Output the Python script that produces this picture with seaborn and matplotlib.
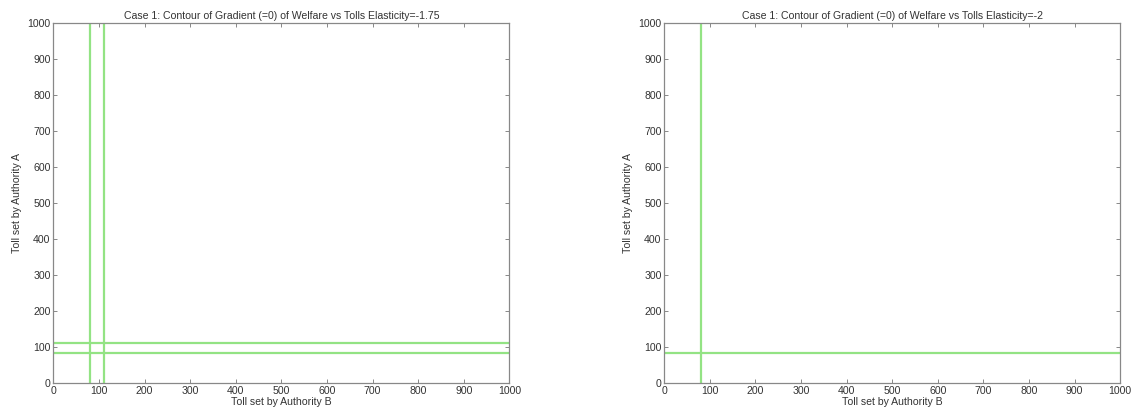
import pandas as pd
import matplotlib.pyplot as plt
import seaborn as sns

# Zero-gradient contour locations
elasticities = ['-1.75', '-2']
roots_b = [[81, 111], [81]]   # vertical contours (toll by Authority B)
roots_a = [[82, 110], [82]]   # horizontal contours (toll by Authority A)
axis_limits = [0, 1000]
ticks = list(range(0, 1001, 100))

sns.set_theme(style='white')
plt.rcParams['font.family'] = ['Liberation Sans', 'DejaVu Sans']

fig, axes = plt.subplots(1, 2, figsize=(11.35, 4.19), dpi=100)
fig.subplots_adjust(left=0.047, right=0.987, bottom=0.086, top=0.945, wspace=0.34)

for ax, el, rb, ra in zip(axes, elasticities, roots_b, roots_a):
    # build contour segments as a long table
    rows = []
    k = 0
    for r in rb:
        for y in axis_limits:
            rows.append({'seg': k, 'x': r, 'y': y})
        k += 1
    for r in ra:
        for x in axis_limits:
            rows.append({'seg': k, 'x': x, 'y': r})
        k += 1
    seg = pd.DataFrame(rows)
    sns.lineplot(data=seg, x='x', y='y', units='seg', estimator=None, sort=False,
                 color='#93e384', linewidth=1.6, ax=ax)

    ax.set_xlim(axis_limits)
    ax.set_ylim(axis_limits)
    ax.set_xticks(ticks)
    ax.set_yticks(ticks)
    ax.set_title(f'Case 1: Contour of Gradient (=0) of Welfare vs Tolls Elasticity={el}',
                 fontsize=7.6, color='#333333', pad=3)
    ax.set_xlabel('Toll set by Authority B', fontsize=7.6, color='#333333', labelpad=1)
    ax.set_ylabel('Toll set by Authority A', fontsize=7.6, color='#333333', labelpad=4)
    ax.tick_params(direction='in', length=3, width=0.7, color='#888888',
                   labelsize=7.6, labelcolor='#333333', top=True, right=True,
                   bottom=True, left=True, pad=2)
    for s in ax.spines.values():
        s.set_color('#888888')
        s.set_linewidth(0.9)

fig.savefig('out.png', dpi=100, facecolor='white')
